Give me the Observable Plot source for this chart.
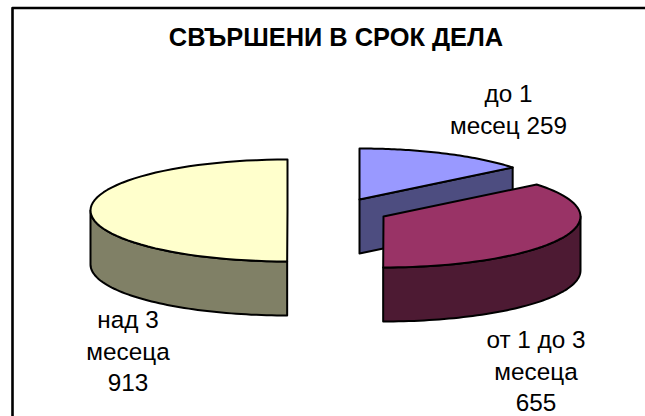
<!DOCTYPE html>
<html><head><meta charset="utf-8">
<style>html,body{margin:0;padding:0;background:#fff}svg{display:block}</style>
<script src="https://cdn.jsdelivr.net/npm/d3@7"></script>
<script src="https://cdn.jsdelivr.net/npm/@observablehq/plot@0.6"></script>
</head><body><div id="c"></div>
<script>
const categories = ["до 1 месец", "от 1 до 3 месеца", "над 3 месеца"];
const values = [259, 655, 913];
const topColors = ["#9999FF", "#993366", "#FFFFCC"];
const sideColors = ["#4D4D80", "#4D1A33", "#808066"];
const labelLines = [["до 1", "месец 259"], ["от 1 до 3", "месеца", "655"], ["над 3", "месеца", "913"]];
const title = "СВЪРШЕНИ В СРОК ДЕЛА";

// layout of each exploded slice: apex, radii, depth, label anchor
const apex = [[359, 199], [383, 216], [287, 210]];
const rx = 197, ry = 51, depth = 54;
const labelAnchor = [[508, 94], [535.5, 340], [127.5, 320]];

const total = d3.sum(values);
const ends = d3.cumsum(values).map(v => v / total * 2 * Math.PI);
const starts = ends.map((e, i) => i ? ends[i - 1] : 0);
const pt = (i, t, dz = 0) => ({x: apex[i][0] + rx * Math.sin(t), y: apex[i][1] - ry * Math.cos(t) + dz});
const arc = (i, a, b, dz = 0) => d3.range(0, 61).map(k => pt(i, a + (b - a) * k / 60, dz));

const polys = [];
const add = (id, fill, pts) => pts.concat(pts[0]).forEach(p => polys.push({...p, id, fill}));

{ // slice 2 (left half)
  const i = 2, a = Math.max(starts[i], Math.PI), b = ends[i];
  const bottomEnd = a + Math.PI / 2;
  add("s2", sideColors[i], [...arc(i, a, bottomEnd), ...arc(i, bottomEnd, a, depth)]);
  add("t2", topColors[i], [{x: apex[i][0], y: apex[i][1]}, ...arc(i, a, b)]);
}
{ // slice 0: cut face then top
  const i = 0, e = ends[i];
  add("s0", sideColors[i], [{x: apex[i][0], y: apex[i][1]}, pt(i, e), pt(i, e, depth), {x: apex[i][0], y: apex[i][1] + depth}]);
  add("t0", topColors[i], [{x: apex[i][0], y: apex[i][1]}, ...arc(i, starts[i], e)]);
}
{ // slice 1: rim then top
  const i = 1, s = starts[i], e = ends[i];
  add("s1", sideColors[i], [...arc(i, Math.PI / 2, e), ...arc(i, e, Math.PI / 2, depth)]);
  add("t1", topColors[i], [{x: apex[i][0], y: apex[i][1]}, ...arc(i, s, e)]);
}

const texts = labelLines.flatMap((lines, i) => lines.map((t, k) => ({t, x: labelAnchor[i][0], y: labelAnchor[i][1] + k * 31.5})));
const frame = [{x:12,y:7.5},{x:650,y:7.5},{x:650,y:430},{x:12,y:430},{x:12,y:7.5}];

const chart = Plot.plot({
  width: 645, height: 416, margin: 0,
  style: {background: "#fff", overflow: "hidden"},
  x: {domain: [0, 645], range: [0, 645], axis: null},
  y: {domain: [0, 416], range: [0, 416], axis: null},
  marks: [
    Plot.line(frame, {x: "x", y: "y", stroke: "#000", strokeWidth: 2.6, curve: "linear"}),
    Plot.text([title], {x: 335.5, y: 37, text: d => d, fontSize: 25.4, fontWeight: "bold", fontFamily: "Liberation Sans", fill: "#000"}),
    Plot.line(polys, {x: "x", y: "y", z: "id", fill: "fill", stroke: "#000", strokeWidth: 2, strokeLinejoin: "round", curve: "linear"}),
    Plot.text(texts, {x: "x", y: "y", text: "t", fontSize: 24.3, fontFamily: "Liberation Sans", fill: "#000"})
  ]
});
document.getElementById("c").append(chart);
</script></body></html>
